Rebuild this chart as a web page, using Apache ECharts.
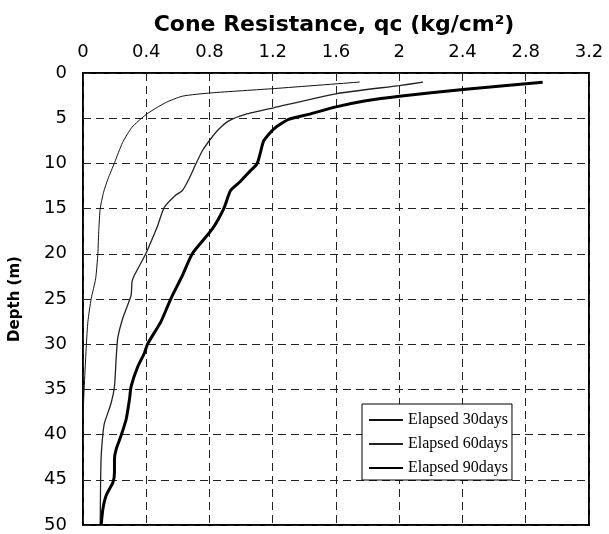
<!DOCTYPE html>
<html>
<head>
<meta charset="utf-8">
<script src="https://cdn.jsdelivr.net/npm/echarts@6/dist/echarts.min.js"></script>
<style>
html,body{margin:0;padding:0;background:#fff;}
#chart{width:609px;height:534px;}
</style>
</head>
<body>
<div id="chart"></div>
<script>
// Data
const seriesNames = ['Elapsed 30days', 'Elapsed 60days', 'Elapsed 90days'];

const depth30 = [1.0, 1.72, 2.2, 2.56, 3.3, 4.58, 6.0, 7.7, 9.9, 11.76, 13.2, 14.98, 17.3, 19.96, 22.75, 24.95, 27.5, 30.1, 31.5, 35.4, 38.3];
const qc30    = [1.75, 1.21, 0.81, 0.63, 0.52, 0.40, 0.31, 0.25, 0.20, 0.157, 0.13, 0.109, 0.10, 0.094, 0.08, 0.052, 0.031, 0.021, 0.017, 0.006, 0.0];

const depth60 = [1.02, 1.39, 2.3, 3.85, 4.58, 5.3, 6.2, 7.3, 8.6, 10.1, 11.9, 13.0, 13.5, 14.87, 16.9, 17.8, 19.96, 22.38, 23.1, 24.6, 27.1, 29.3, 31.5, 34.7, 36.5, 38.7, 39.9, 42.4, 45.6, 50];
const qc60    = [2.15, 2.0, 1.6, 1.206, 1.027, 0.922, 0.86, 0.807, 0.755, 0.713, 0.665, 0.629, 0.587, 0.514, 0.472, 0.451, 0.398, 0.325, 0.31, 0.304, 0.252, 0.22, 0.21, 0.199, 0.178, 0.136, 0.126, 0.115, 0.111, 0.109];

const depth90 = [1.03, 1.83, 2.56, 3.1, 3.75, 4.58, 5.13, 6.2, 7.5, 8.8, 10.07, 10.8, 12.0, 13.0, 14.98, 17.25, 19.96, 22.38, 24.95, 27.5, 29.96, 31.0, 32.5, 34.7, 36.1, 38.3, 40.1, 41.6, 42.7, 44.2, 45.3, 46.7, 48.2, 50];
const qc90    = [2.907, 2.404, 2.0, 1.78, 1.6, 1.426, 1.3, 1.206, 1.143, 1.122, 1.1, 1.059, 0.995, 0.933, 0.891, 0.818, 0.692, 0.629, 0.556, 0.493, 0.409, 0.388, 0.346, 0.304, 0.294, 0.273, 0.241, 0.21, 0.199, 0.199, 0.189, 0.147, 0.126, 0.115];

const xTicks = [0, 0.4, 0.8, 1.2, 1.6, 2, 2.4, 2.8, 3.2];
const yTicks = [0, 5, 10, 15, 20, 25, 30, 35, 40, 45, 50];

const titleText = 'Cone Resistance, qc (kg/cm\u00B2)';
const yName = 'Depth (m)';

function pairs(xs, ys) { return xs.map((x, i) => [x, ys[i]]); }

const chart = echarts.init(document.getElementById('chart'), null, {renderer: 'canvas'});
const gridLine = {show: true, lineStyle: {color: '#222', width: 1, type: [8, 5]}};
chart.setOption({
  animation: false,
  backgroundColor: '#fff',
  title: {
    text: titleText,
    left: 329, top: 9, textAlign: 'center',
    textStyle: {fontFamily: 'DejaVu Sans', fontWeight: 'bold', fontSize: 22, color: '#000'}
  },
  grid: {left: 80, right: 20, top: 73, bottom: 6, show: true, borderColor: '#000', borderWidth: 2, containLabel: false},
  legend: {
    data: seriesNames,
    orient: 'vertical',
    left: 362, top: 404,
    itemWidth: 34, itemHeight: 14, itemGap: 8,
    padding: [8, 4, 4, 6],
    itemStyle: {opacity: 0},
    backgroundColor: '#fff', borderColor: '#000', borderWidth: 1, borderRadius: 0,
    textStyle: {fontFamily: 'Liberation Serif', fontSize: 16, color: '#000'}
  },
  xAxis: {
    type: 'value', position: 'top',
    min: xTicks[0], max: xTicks[xTicks.length - 1], interval: 0.4,
    axisLine: {show: false}, axisTick: {show: false},
    axisLabel: {margin: 12, fontFamily: 'DejaVu Sans', fontSize: 18, color: '#000',
      formatter: v => { const t = xTicks.find(x => Math.abs(x - v) < 1e-6); return t === undefined ? '' : String(t); }},
    splitLine: gridLine
  },
  yAxis: {
    type: 'value', inverse: true,
    min: yTicks[0], max: yTicks[yTicks.length - 1], interval: 5,
    name: yName, nameLocation: 'middle', nameRotate: 90, nameGap: 60,
    nameTextStyle: {fontFamily: 'DejaVu Sans', fontWeight: 'bold', fontSize: 15, color: '#000'},
    axisLine: {show: false}, axisTick: {show: false},
    axisLabel: {margin: 16, fontFamily: 'DejaVu Sans', fontSize: 18, color: '#000'},
    splitLine: gridLine
  },
  series: [
    {name: seriesNames[0], type: 'line', data: pairs(qc30, depth30), symbol: 'none', smooth: 0.2, color: '#111', lineStyle: {width: 1, color: '#111'}, z: 3},
    {name: seriesNames[1], type: 'line', data: pairs(qc60, depth60), symbol: 'none', smooth: 0.2, color: '#222', lineStyle: {width: 1.3, color: '#222'}, z: 3},
    {name: seriesNames[2], type: 'line', data: pairs(qc90, depth90), symbol: 'none', smooth: 0.2, color: '#000', lineStyle: {width: 3, color: '#000'}, z: 3}
  ]
});
</script>
</body>
</html>
